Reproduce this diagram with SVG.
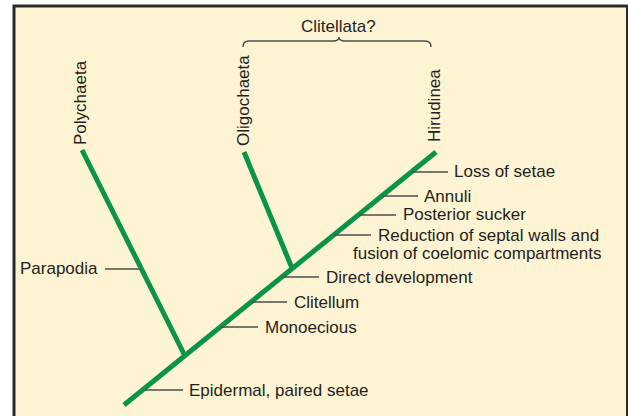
<svg xmlns="http://www.w3.org/2000/svg" width="628" height="416" viewBox="0 0 628 416">
  <style>
    .lbl { font-family: "Liberation Sans", Arial, Helvetica, sans-serif; font-size: 17px; fill: #231f20; }
    .branch { stroke: #0a9448; stroke-width: 5; fill: none; stroke-linecap: butt; }
    .tick { stroke: #4d4d4d; stroke-width: 1.5; fill: none; }
  </style>

  <!-- panel -->
  <rect x="0" y="0" width="628" height="416" fill="#ffffff"/>
  <rect x="14" y="6" width="613.5" height="420" fill="#fef4d3" stroke="#2a2a2a" stroke-width="3"/>

  <!-- tree branches -->
  <g id="connectors">
    <line class="branch" x1="124" y1="405" x2="436" y2="152"/>
    <line class="branch" x1="82" y1="150" x2="185" y2="356"/>
    <line class="branch" x1="244" y1="152" x2="292" y2="268"/>

    <!-- character ticks -->
    <line class="tick" x1="105" y1="269" x2="139" y2="269"/>
    <line class="tick" x1="145" y1="390" x2="183" y2="390"/>
    <line class="tick" x1="221" y1="327" x2="258" y2="327"/>
    <line class="tick" x1="252" y1="302" x2="287" y2="302"/>
    <line class="tick" x1="283" y1="277" x2="319" y2="277"/>
    <line class="tick" x1="334" y1="235" x2="371" y2="235"/>
    <line class="tick" x1="359" y1="215" x2="396" y2="215"/>
    <line class="tick" x1="382" y1="196" x2="418" y2="196"/>
    <line class="tick" x1="412" y1="172" x2="448" y2="172"/>

    <!-- bracket over the clitellate taxa -->
    <path class="tick" stroke="#333" stroke-width="1.2" d="M243,47 Q243,41 249,41 L333,41 Q339,41 339,37 Q339,41 345,41 L425,41 Q431,41 431,47"/>
  </g>

  <!-- taxa -->
  <g id="polychaeta">
    <text class="lbl" transform="translate(86,145) rotate(-90)">Polychaeta</text>
  </g>
  <g id="oligochaeta">
    <text class="lbl" transform="translate(249,146) rotate(-90)">Oligochaeta</text>
  </g>
  <g id="hirudinea">
    <text class="lbl" transform="translate(440,142) rotate(-90)">Hirudinea</text>
  </g>
  <g id="clitellata">
    <text class="lbl" x="301" y="32">Clitellata?</text>
  </g>

  <!-- characters -->
  <g id="parapodia"><text class="lbl" x="20" y="274">Parapodia</text></g>
  <g id="epidermal-setae"><text class="lbl" x="189" y="396">Epidermal, paired setae</text></g>
  <g id="monoecious"><text class="lbl" x="265" y="333">Monoecious</text></g>
  <g id="clitellum"><text class="lbl" x="294" y="308">Clitellum</text></g>
  <g id="direct-development"><text class="lbl" x="326" y="283">Direct development</text></g>
  <g id="septal-reduction">
    <text class="lbl" x="378" y="241">Reduction of septal walls and</text>
    <text class="lbl" x="353" y="259">fusion of coelomic compartments</text>
  </g>
  <g id="posterior-sucker"><text class="lbl" x="403" y="220">Posterior sucker</text></g>
  <g id="annuli"><text class="lbl" x="424" y="202">Annuli</text></g>
  <g id="loss-of-setae"><text class="lbl" x="454" y="177">Loss of setae</text></g>
</svg>
